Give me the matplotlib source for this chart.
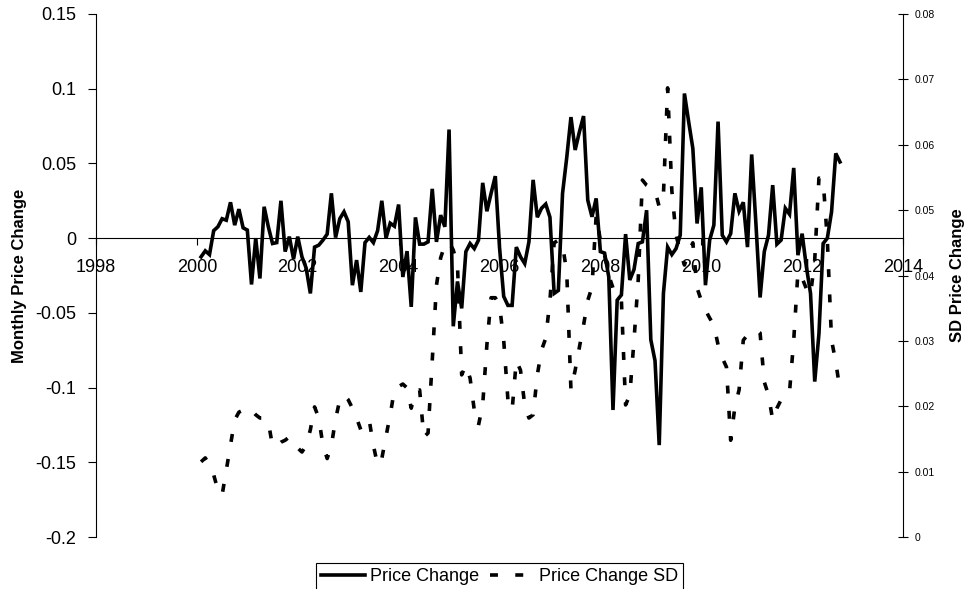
import numpy as np
import matplotlib
matplotlib.use("Agg")
import matplotlib.pyplot as plt
from matplotlib.ticker import FuncFormatter

plt.rcParams['font.family'] = ['Liberation Sans', 'DejaVu Sans']

# monthly data, Feb 2000 .. Oct 2012
start_year = 2000
start_month = 2

price_change = [
    -0.0125, -0.0085, -0.011, 0.005, 0.0076, 0.013, 0.012, 0.024, 0.0087, 0.0194, 0.0069,
    0.0054, -0.031, 0.000, -0.027, 0.021, 0.0076, -0.0036, -0.003, 0.025, -0.009, 0.001,
    -0.014, 0.001, -0.0125, -0.020, -0.037, -0.006, -0.0047, -0.0013, 0.0027, 0.030, 0.0004,
    0.013, 0.0176, 0.011, -0.0315, -0.0147, -0.036, -0.003, 0.0005, -0.003,
    0.005, 0.025, 0.000, 0.010, 0.008, 0.0225, -0.026, -0.0087, -0.046, 0.0139, -0.004,
    -0.004, -0.0025, 0.033, -0.0025, 0.0154, 0.0076, 0.0727, -0.059, -0.029, -0.047, -0.009,
    -0.0036, -0.007, -0.0013, 0.037, 0.018, 0.030, 0.0415, -0.006, -0.039, -0.045, -0.045,
    -0.006, -0.0125, -0.017, -0.0025, 0.039, 0.014, 0.020, 0.0228, 0.014,
    -0.037, -0.035, 0.030, 0.054, 0.081, 0.059, 0.071, 0.0817, 0.0254, 0.0143, 0.0266,
    -0.009, -0.010, -0.026, -0.115, -0.0415, -0.038, 0.0027, -0.028, -0.021, -0.0036, -0.0025,
    0.0187, -0.068, -0.082, -0.1385, -0.037, -0.006, -0.011, -0.007, 0.002, 0.0968, 0.078,
    0.060, 0.0098, 0.034, -0.0315, -0.0013, 0.0087, 0.078, 0.002, -0.0025, 0.003, 0.030,
    0.018, 0.024, -0.006, 0.056, 0.010, -0.0397, -0.009, 0.002, 0.0355, -0.004, -0.0013,
    0.020, 0.016, 0.047, -0.0114, 0.003, -0.019, -0.037, -0.096, -0.064, -0.0036, 0.000,
    0.0176, 0.0567, 0.051,
]

price_change_sd = [
    0.0115, 0.0121, 0.011, 0.0095, 0.0072, 0.0064, 0.0102, 0.014, 0.0179, 0.0191, 0.0194,
    0.019, 0.0194, 0.0187, 0.0182, 0.0182, 0.0176, 0.0139, 0.014, 0.0145, 0.0148, 0.0153,
    0.0145, 0.0136, 0.013, 0.014, 0.0164, 0.0199, 0.0182, 0.014, 0.012, 0.014, 0.018,
    0.021, 0.0217, 0.021, 0.0197, 0.0182, 0.0164, 0.0171, 0.0179, 0.014,
    0.011, 0.012, 0.0154, 0.0187, 0.0225, 0.023, 0.0234, 0.0228, 0.0197, 0.0222, 0.0225,
    0.0153, 0.0159, 0.027, 0.0385, 0.0427, 0.0447, 0.0451, 0.0439, 0.0416, 0.0248, 0.0263,
    0.0243, 0.0194, 0.0171, 0.0202, 0.0294, 0.0366, 0.0366, 0.0355, 0.0301, 0.021, 0.0194,
    0.027, 0.0255, 0.0202, 0.0182, 0.0187, 0.0248, 0.0286, 0.0304, 0.0362,
    0.045, 0.0454, 0.0447, 0.0405, 0.0225, 0.0255, 0.029, 0.0324, 0.0362, 0.0382, 0.0492,
    0.0454, 0.0431, 0.040, 0.0381, 0.0378, 0.0362, 0.0202, 0.0217, 0.0301, 0.0393, 0.0546,
    0.0538, 0.0534, 0.053, 0.0505, 0.0523, 0.0687, 0.053, 0.0462, 0.0436, 0.0416, 0.0436,
    0.045, 0.0381, 0.0362, 0.0347, 0.0335, 0.0324, 0.0294, 0.0274, 0.026, 0.0148, 0.0199,
    0.0225, 0.0301, 0.0309, 0.0312, 0.0317, 0.0312, 0.0237, 0.0217, 0.0179, 0.0197, 0.021,
    0.0213, 0.0222, 0.0301, 0.0405, 0.0396, 0.038, 0.037, 0.0424, 0.0549, 0.0546, 0.0454,
    0.0301, 0.0268, 0.0225,
]

x_ticks = [1998, 2000, 2002, 2004, 2006, 2008, 2010, 2012, 2014]
left_ticks = [-0.2, -0.15, -0.1, -0.05, 0, 0.05, 0.1, 0.15]
right_ticks = [0, 0.01, 0.02, 0.03, 0.04, 0.05, 0.06, 0.07, 0.08]

# decimal year for each month
n = len(price_change)
years = start_year + (start_month - 1 + np.arange(n)) / 12.0

fig = plt.figure(figsize=(9.68, 5.89), dpi=100)
ax = fig.add_axes([96 / 968, 1 - 537 / 589, 807 / 968, 523 / 589])
ax2 = ax.twinx()

line1, = ax.plot(years, price_change, color='black', lw=2.6, zorder=3,
                 solid_joinstyle='miter', label='Price Change')
line2, = ax2.plot(years, price_change_sd, color='black', lw=2.6,
                  linestyle=(0, (2.2, 4.8)), label='Price Change SD')

ax.set_xlim(1998, 2014)
ax.set_ylim(-0.2, 0.15)
ax2.set_ylim(0, 0.08)

fmt = FuncFormatter(lambda v, p: '%g' % round(v, 4))
ax.set_xticks(x_ticks)
ax.set_yticks(left_ticks)
ax.yaxis.set_major_formatter(fmt)
ax2.set_yticks(right_ticks)
ax2.yaxis.set_major_formatter(fmt)

# spines: x axis crosses at zero
ax.spines['bottom'].set_position(('data', 0))
ax.spines['top'].set_visible(False)
ax.spines['right'].set_visible(False)
for s in ['left', 'top', 'bottom']:
    ax2.spines[s].set_visible(False)
for s in [ax.spines['left'], ax.spines['bottom'], ax2.spines['right']]:
    s.set_color('black')
    s.set_linewidth(0.8)

ax.tick_params(axis='x', direction='out', length=5, width=0.8, labelsize=13, pad=10)
ax.tick_params(axis='y', direction='out', length=6, width=0.8, labelsize=13, pad=8)
ax2.tick_params(axis='y', direction='inout', length=7, width=0.8, labelsize=7.5, pad=5)

ax.set_ylabel('Monthly Price Change', fontsize=12, fontweight='bold')
ax.yaxis.set_label_coords(-0.086, 0.5)
ax2.set_ylabel('SD Price Change', fontsize=12, fontweight='bold')
ax2.yaxis.set_label_coords(1.058, 0.5)

leg = fig.legend(handles=[line1, line2], loc='upper center', ncol=2,
                 bbox_to_anchor=(499.5 / 968, 1 - 563 / 589), fontsize=13,
                 frameon=True, fancybox=False, edgecolor='black', framealpha=1,
                 handlelength=2.4, handletextpad=0.3, columnspacing=0.6,
                 borderpad=0.3, borderaxespad=0)
leg.get_frame().set_linewidth(0.8)

fig.savefig('out.png', dpi=100)
